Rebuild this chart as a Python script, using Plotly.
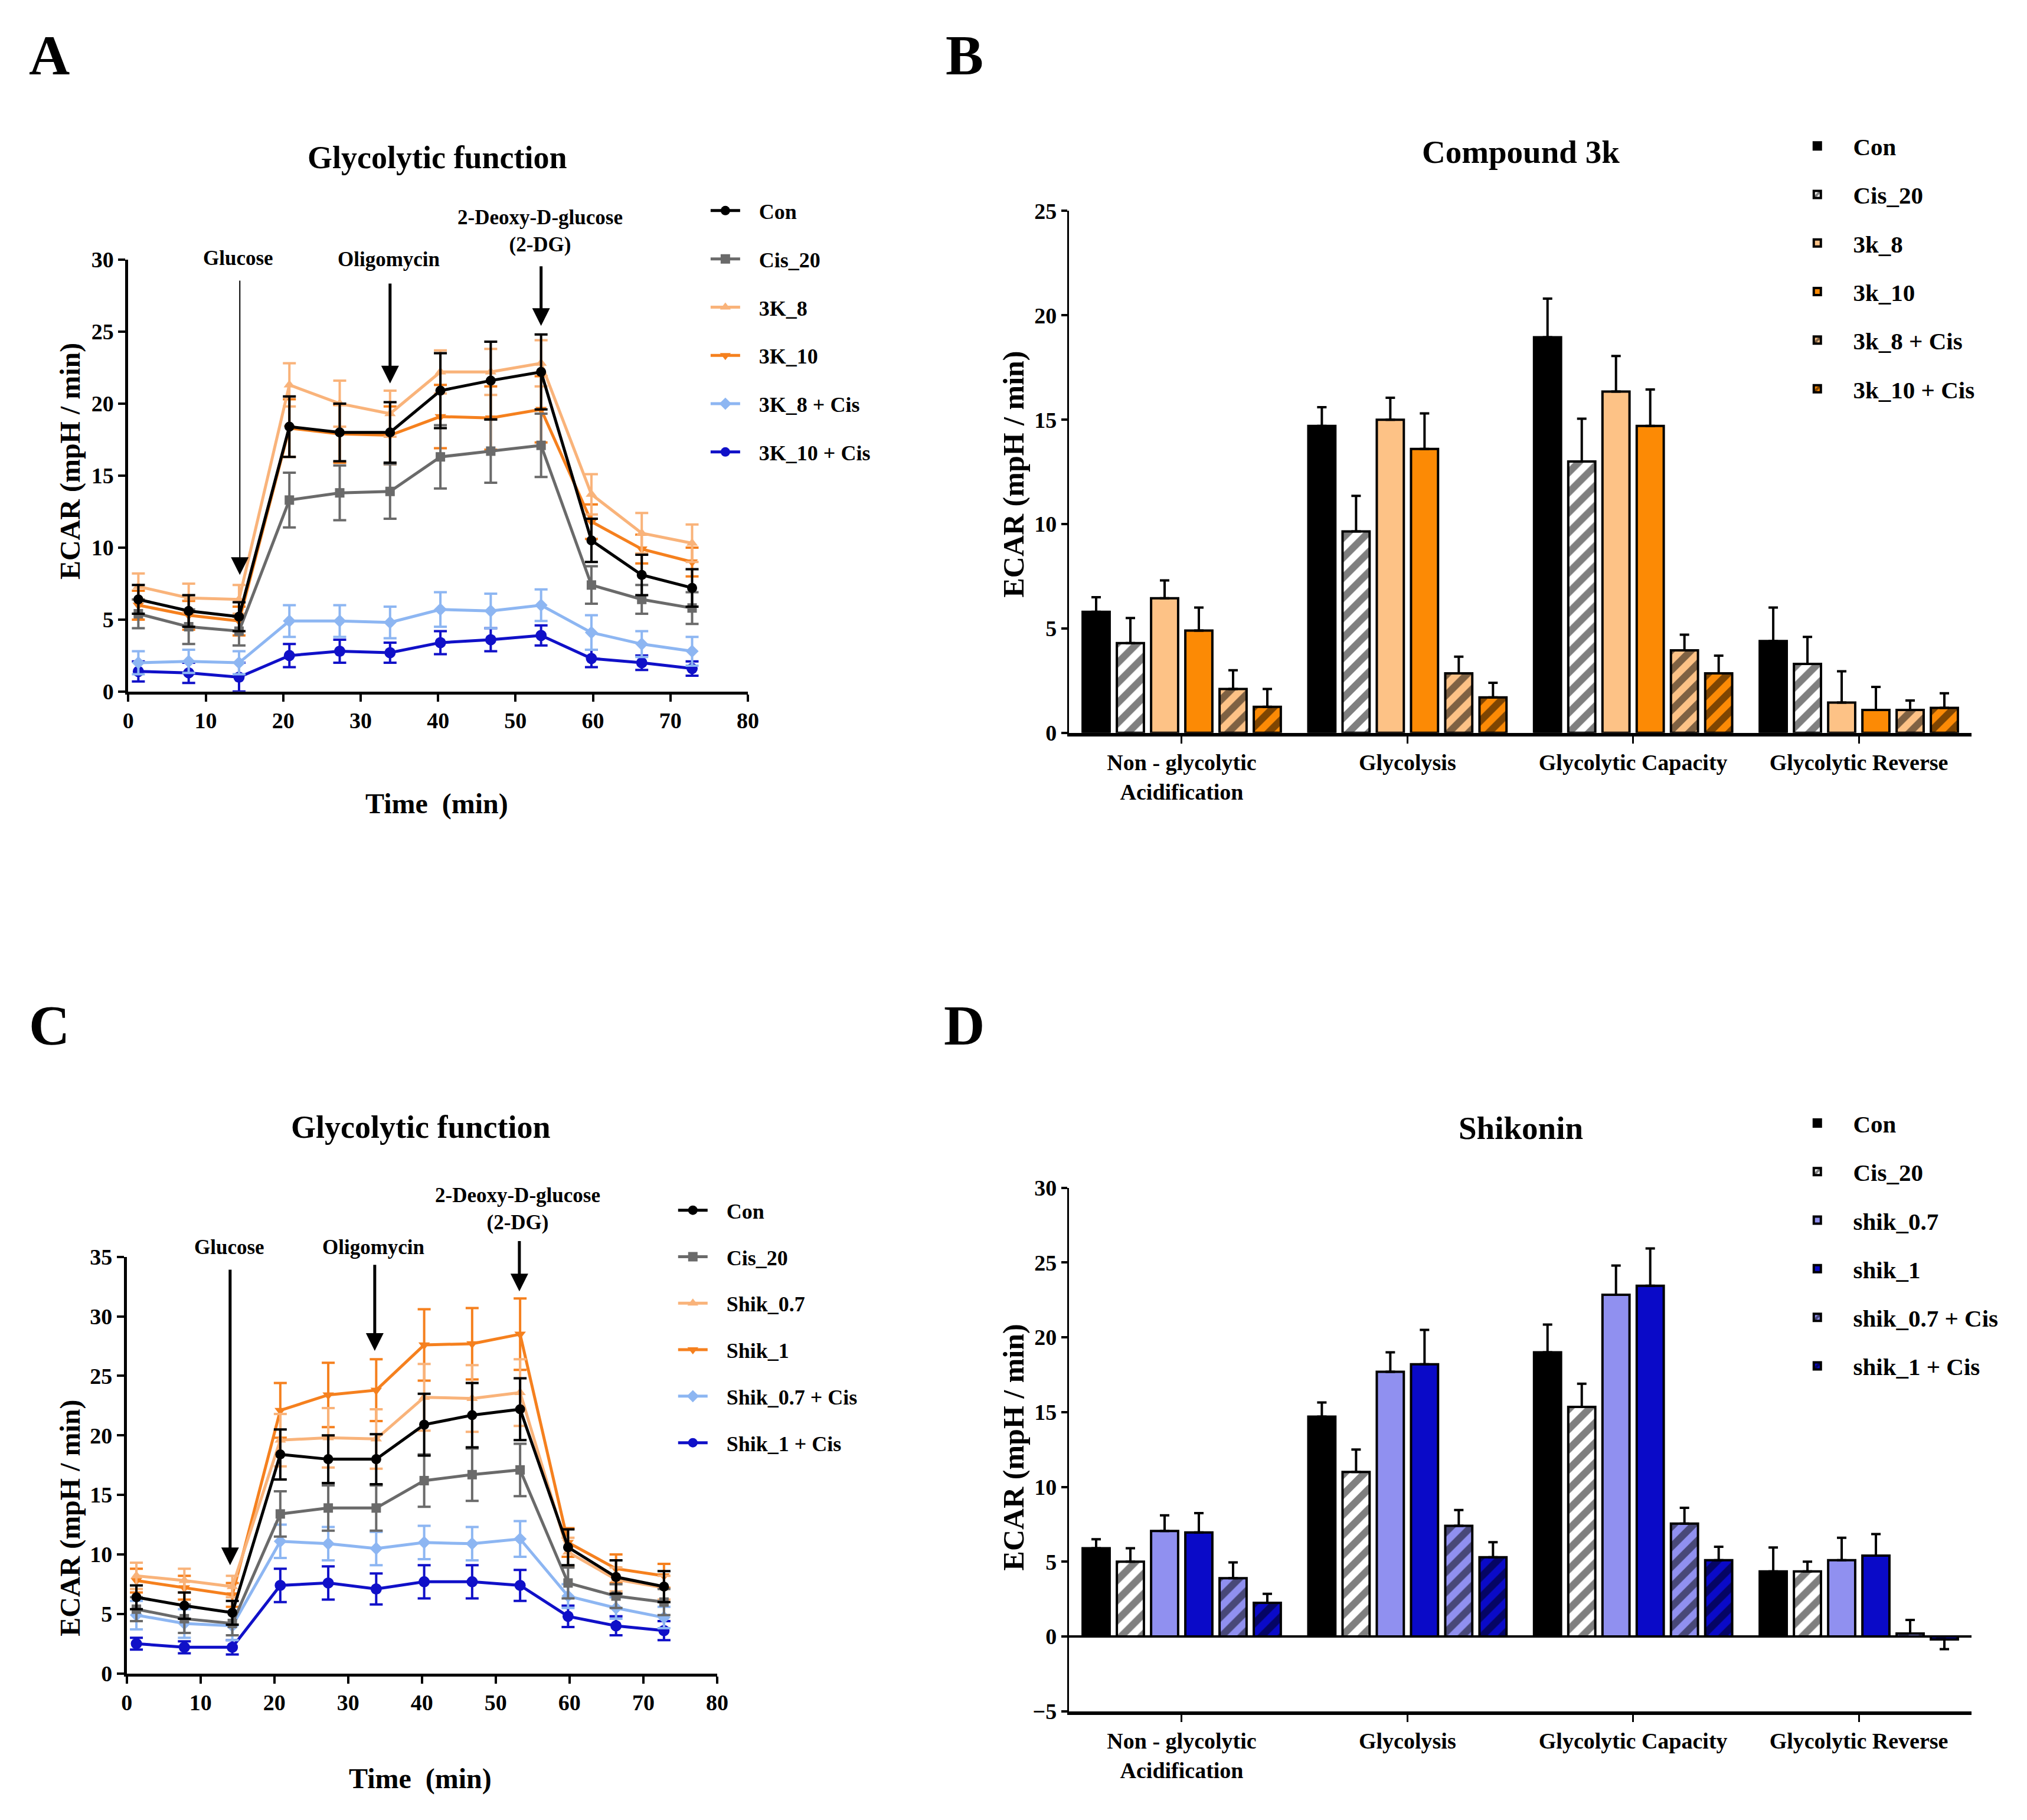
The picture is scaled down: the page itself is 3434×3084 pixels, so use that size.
import plotly.graph_objects as go

W, H = 3434, 3084
FONT = "Liberation Serif"

# ---------------- data ----------------
times = [1.3, 7.8, 14.3, 20.8, 27.3, 33.8, 40.3, 46.8, 53.3, 59.8, 66.3, 72.8]

# Panel A (compound 3k, time course)
con_a = [6.4, 5.6, 5.2, 18.4, 18.0, 18.0, 20.9, 21.6, 22.2, 10.5, 8.1, 7.2]
con_a_err = [1.0, 1.1, 1.0, 2.1, 2.0, 2.1, 2.6, 2.7, 2.6, 1.5, 1.4, 1.3]
cis_a = [5.4, 4.5, 4.2, 13.3, 13.8, 13.9, 16.3, 16.7, 17.1, 7.4, 6.4, 5.8]
cis_a_err = [1.0, 1.2, 1.0, 1.9, 1.9, 1.9, 2.2, 2.2, 2.2, 1.3, 1.0, 1.1]
k8_a = [7.3, 6.5, 6.4, 21.3, 20.0, 19.3, 22.2, 22.2, 22.8, 13.7, 11.0, 10.3]
k8_a_err = [0.9, 1.0, 1.0, 1.5, 1.6, 1.6, 1.5, 1.6, 1.6, 1.4, 1.4, 1.3]
k10_a = [6.0, 5.3, 4.9, 18.3, 17.9, 17.8, 19.1, 19.0, 19.6, 11.8, 9.9, 9.0]
k10_a_err = [1.0, 1.0, 1.0, 2.0, 2.0, 2.0, 2.2, 2.2, 2.3, 1.2, 1.0, 1.0]
k8c_a = [2.0, 2.1, 2.0, 4.9, 4.9, 4.8, 5.7, 5.6, 6.0, 4.1, 3.3, 2.8]
k8c_a_err = [0.8, 0.8, 0.8, 1.1, 1.1, 1.1, 1.2, 1.2, 1.1, 1.2, 0.9, 1.0]
k10c_a = [1.4, 1.3, 1.0, 2.5, 2.8, 2.7, 3.4, 3.6, 3.9, 2.3, 2.0, 1.6]
k10c_a_err = [0.7, 0.7, 1.0, 0.8, 0.8, 0.7, 0.8, 0.8, 0.7, 0.6, 0.5, 0.5]

# Panel C (shikonin, time course)
con_c = [6.4, 5.7, 5.1, 18.4, 18.0, 18.0, 20.9, 21.7, 22.2, 10.6, 8.1, 7.3]
con_c_err = [1.0, 1.1, 1.0, 2.1, 2.0, 2.1, 2.6, 2.7, 2.6, 1.5, 1.4, 1.3]
cis_c = [5.4, 4.6, 4.2, 13.4, 13.9, 13.9, 16.2, 16.7, 17.1, 7.6, 6.5, 6.0]
cis_c_err = [1.0, 1.2, 1.0, 1.9, 1.9, 1.9, 2.2, 2.2, 2.2, 1.3, 1.0, 1.1]
s07_c = [8.2, 7.8, 7.3, 19.6, 19.8, 19.7, 23.2, 23.1, 23.6, 10.2, 7.9, 7.2]
s07_c_err = [1.1, 1.0, 0.9, 2.2, 2.5, 2.5, 2.8, 2.8, 2.8, 1.2, 1.0, 1.0]
s1_c = [7.8, 7.2, 6.6, 22.1, 23.4, 23.8, 27.6, 27.7, 28.5, 11.0, 8.8, 8.2]
s1_c_err = [1.0, 1.0, 1.0, 2.3, 2.7, 2.6, 3.0, 3.0, 3.0, 1.2, 1.2, 1.0]
s07c_c = [4.9, 4.2, 4.0, 11.1, 10.9, 10.5, 11.0, 10.9, 11.3, 6.5, 5.5, 4.7]
s07c_c_err = [1.2, 1.2, 1.2, 1.4, 1.4, 1.4, 1.4, 1.4, 1.5, 1.0, 0.9, 0.9]
s1c_c = [2.5, 2.2, 2.2, 7.4, 7.6, 7.1, 7.7, 7.7, 7.4, 4.8, 4.0, 3.6]
s1c_c_err = [0.5, 0.5, 0.6, 1.4, 1.4, 1.3, 1.4, 1.4, 1.3, 0.9, 0.8, 0.8]

# Bar categories
categories = ["Non - glycolytic<br>Acidification", "Glycolysis",
              "Glycolytic Capacity", "Glycolytic Reverse"]

# Panel B (Compound 3k)
b_con = [5.8, 14.7, 18.95, 4.4]
b_con_err = [0.7, 0.9, 1.85, 1.6]
b_cis = [4.3, 9.65, 13.0, 3.3]
b_cis_err = [1.2, 1.7, 2.05, 1.3]
b_k8 = [6.45, 15.0, 16.35, 1.45]
b_k8_err = [0.85, 1.05, 1.7, 1.5]
b_k10 = [4.9, 13.6, 14.7, 1.1]
b_k10_err = [1.1, 1.7, 1.75, 1.1]
b_k8c = [2.1, 2.85, 3.95, 1.1]
b_k8c_err = [0.9, 0.8, 0.75, 0.45]
b_k10c = [1.25, 1.7, 2.85, 1.2]
b_k10c_err = [0.85, 0.7, 0.85, 0.7]

# Panel D (Shikonin)
d_con = [5.9, 14.7, 19.0, 4.35]
d_con_err = [0.6, 0.95, 1.85, 1.6]
d_cis = [5.0, 11.0, 15.35, 4.35]
d_cis_err = [0.9, 1.5, 1.55, 0.65]
d_s07 = [7.05, 17.7, 22.85, 5.1]
d_s07_err = [1.05, 1.3, 1.95, 1.5]
d_s1 = [6.95, 18.2, 23.45, 5.4]
d_s1_err = [1.3, 2.3, 2.5, 1.45]
d_s07c = [3.9, 7.4, 7.55, 0.2]
d_s07c_err = [1.05, 1.05, 1.05, 0.9]
d_s1c = [2.25, 5.3, 5.1, -0.2]
d_s1c_err = [0.6, 1.0, 0.9, 0.65]

# ---------------- styling ----------------
BLACK = "#000000"
GRAY = "#6a6a6a"
LORANGE = "#f9b37a"
ORANGE = "#f5801e"
LBLUE = "#8db6f2"
BLUE = "#1010c8"
PEACH = "#fdc286"
BORANGE = "#fc8a05"
PERI = "#9090f0"
DBLUE = "#0a0ac8"
SP3 = "&nbsp;&nbsp;&nbsp;"

# empirical page-to-screenshot correction
AX, BX = 0.990, 11.0
AY, BY = 0.9865, 21.0


def px_x(p):
    return ((p - BX) / AX) / W


def px_y(p):
    return 1 - ((p - BY) / AY) / H


fig = go.Figure()


def add_lines(series, xa, ya, leg):
    for rank, (name, vals, errs, col, sym, size) in reversed(list(enumerate(series))):
        fig.add_trace(go.Scatter(
            x=times, y=vals, mode="lines+markers", name=SP3 + name,
            line=dict(color=col, width=5),
            marker=dict(symbol=sym, size=size, color=col),
            error_y=dict(type="data", array=errs, color=col, thickness=4, width=11),
            xaxis=xa, yaxis=ya, legend=leg, legendgroup=leg + name,
            legendrank=rank + 1, showlegend=True,
        ))


add_lines([
    ("Con", con_a, con_a_err, BLACK, "circle", 17),
    ("Cis_20", cis_a, cis_a_err, GRAY, "square", 16),
    ("3K_8", k8_a, k8_a_err, LORANGE, "triangle-up", 17),
    ("3K_10", k10_a, k10_a_err, ORANGE, "triangle-down", 17),
    ("3K_8 + Cis", k8c_a, k8c_a_err, LBLUE, "diamond", 17),
    ("3K_10 + Cis", k10c_a, k10c_a_err, BLUE, "circle", 19),
], "x", "y", "legend")

add_lines([
    ("Con", con_c, con_c_err, BLACK, "circle", 17),
    ("Cis_20", cis_c, cis_c_err, GRAY, "square", 16),
    ("Shik_0.7", s07_c, s07_c_err, LORANGE, "triangle-up", 17),
    ("Shik_1", s1_c, s1_c_err, ORANGE, "triangle-down", 17),
    ("Shik_0.7 + Cis", s07c_c, s07c_c_err, LBLUE, "diamond", 17),
    ("Shik_1 + Cis", s1c_c, s1c_c_err, BLUE, "circle", 19),
], "x3", "y3", "legend3")


def add_bars(series, xa, ya, leg):
    for rank, (name, vals, errs, col, striped) in enumerate(series):
        up = [e if v >= 0 else 0 for v, e in zip(vals, errs)]
        dn = [0 if v >= 0 else e for v, e in zip(vals, errs)]
        marker = dict(color=col, line=dict(color=BLACK, width=4))
        if striped:
            marker["pattern"] = dict(shape="/", fgcolor=BLACK, size=24,
                                     solidity=0.5, fillmode="overlay")
        fig.add_trace(go.Bar(
            x=categories, y=vals, name=SP3 + name, marker=marker,
            error_y=dict(type="data", symmetric=False, array=up, arrayminus=dn,
                         color=BLACK, thickness=4, width=8),
            xaxis=xa, yaxis=ya, legend=leg, legendgroup=leg + name,
            legendrank=rank + 1,
        ))


add_bars([
    ("Con", b_con, b_con_err, BLACK, False),
    ("Cis_20", b_cis, b_cis_err, "#ffffff", True),
    ("3k_8", b_k8, b_k8_err, PEACH, False),
    ("3k_10", b_k10, b_k10_err, BORANGE, False),
    ("3k_8 + Cis", b_k8c, b_k8c_err, PEACH, True),
    ("3k_10 + Cis", b_k10c, b_k10c_err, BORANGE, True),
], "x2", "y2", "legend2")

add_bars([
    ("Con", d_con, d_con_err, BLACK, False),
    ("Cis_20", d_cis, d_cis_err, "#ffffff", True),
    ("shik_0.7", d_s07, d_s07_err, PERI, False),
    ("shik_1", d_s1, d_s1_err, DBLUE, False),
    ("shik_0.7 + Cis", d_s07c, d_s07c_err, PERI, True),
    ("shik_1 + Cis", d_s1c, d_s1c_err, DBLUE, True),
], "x4", "y4", "legend4")

TICKFONT = dict(family=FONT, size=38, color=BLACK, weight="bold")


def lin_axis(domain, rng, dtick, anchor, lw=5):
    return dict(domain=domain, range=rng, dtick=dtick, anchor=anchor,
                showline=True, linewidth=lw, linecolor=BLACK, ticks="outside",
                ticklen=12, tickwidth=4, tickcolor=BLACK, tickfont=TICKFONT,
                showgrid=False, zeroline=False, mirror=False)


def cat_axis(domain, anchor):
    return dict(domain=domain, range=[-0.5, 3.5], type="category", anchor=anchor,
                showline=True, linewidth=6, linecolor=BLACK, ticks="outside",
                ticklen=12, tickwidth=3, tickcolor=BLACK, tickfont=TICKFONT,
                showgrid=False, zeroline=False)


def legend_cfg(x, ytop, size, gap):
    return dict(x=x, y=ytop, xanchor="left", yanchor="top",
                font=dict(family=FONT, size=size, color=BLACK, weight="bold"),
                tracegroupgap=gap, traceorder="grouped", bgcolor="rgba(0,0,0,0)",
                itemwidth=50)


# axis domains (paper)
XA = [px_x(218), px_x(1266)]
YA = [px_y(1172), px_y(440)]
XB = [px_x(1809), px_x(3336)]
YB = [px_y(1242), px_y(357.5)]
XC = [px_x(215.5), px_x(1214)]
YC = [px_y(2836), px_y(2130)]
XD = XB
YD = [px_y(2900), px_y(2013)]


def to_paper(v, dom, rng):
    return dom[0] + (v - rng[0]) / (rng[1] - rng[0]) * (dom[1] - dom[0])


ann = []


def text(x, y, s, size, angle=0):
    ann.append(dict(x=x, y=y, xref="paper", yref="paper", text=s, showarrow=False,
                    textangle=angle, xanchor="center", yanchor="middle",
                    font=dict(family=FONT, size=size, color=BLACK, weight="bold")))


def arrow(x, y0, y1, xref, yref, width, size):
    ann.append(dict(x=x, y=y1, ax=x, ay=y0, xref=xref, yref=yref, axref=xref,
                    ayref=yref, text="", showarrow=True, arrowhead=2,
                    arrowwidth=width, arrowsize=size, arrowcolor=BLACK))


def data_text(xv, yv, s, size, xdom, xr, ydom, yr):
    text(to_paper(xv, xdom, xr), to_paper(yv, ydom, yr), s, size)


# panel letters
for letter, px, py in [("A", 84, 94), ("B", 1632, 94), ("C", 84, 1738), ("D", 1632, 1738)]:
    text(px_x(px), px_y(py), letter, 96)

# titles
text(px_x(740), px_y(267), "Glycolytic function", 54)
text(px_x(2573), px_y(258), "Compound 3k", 55)
text(px_x(712), px_y(1910), "Glycolytic function", 54)
text(px_x(2573), px_y(1912), "Shikonin", 55)

# axis titles
text(px_x(740), px_y(1362), "Time  (min)", 48)
text(px_x(712), px_y(3014), "Time  (min)", 48)
text(px_x(120), px_y(782), "ECAR (mpH / min)", 48, angle=-90)
text(px_x(120), px_y(2573), "ECAR (mpH / min)", 48, angle=-90)
text(px_x(1715), px_y(804), "ECAR (mpH / min)", 50, angle=-90)
text(px_x(1715), px_y(2453), "ECAR (mpH / min)", 50, angle=-90)

# injection markers panel A
RA_X, RA_Y = [0, 80], [0, 30]
data_text(14.2, 30.1, "Glucose", 35, XA, RA_X, YA, RA_Y)
arrow(14.4, 28.6, 8.1, "x", "y", 2, 3)
data_text(33.6, 30.0, "Oligomycin", 35, XA, RA_X, YA, RA_Y)
arrow(33.8, 28.4, 21.4, "x", "y", 5, 1.2)
data_text(53.2, 32.0, "2-Deoxy-D-glucose<br>(2-DG)", 35, XA, RA_X, YA, RA_Y)
arrow(53.3, 29.6, 25.4, "x", "y", 5, 1.2)

# injection markers panel C
RC_X, RC_Y = [0, 80], [0, 35]
data_text(13.9, 35.8, "Glucose", 35, XC, RC_X, YC, RC_Y)
arrow(14.0, 34.0, 9.1, "x3", "y3", 5, 1.2)
data_text(33.4, 35.8, "Oligomycin", 35, XC, RC_X, YC, RC_Y)
arrow(33.6, 34.4, 27.1, "x3", "y3", 5, 1.2)
data_text(53.0, 39.05, "2-Deoxy-D-glucose<br>(2-DG)", 35, XC, RC_X, YC, RC_Y)
arrow(53.2, 36.4, 32.1, "x3", "y3", 5, 1.2)

ydD = lin_axis(YD, [-5, 30], 5, "x4", lw=3)
ydD.update(zeroline=True, zerolinewidth=4, zerolinecolor=BLACK, ticklen=10)
ybB = lin_axis(YB, [0, 25], 5, "x2", lw=3)
ybB.update(ticklen=10)

fig.update_layout(
    width=W, height=H,
    margin=dict(l=0, r=0, t=0, b=0),
    paper_bgcolor="white", plot_bgcolor="white",
    font=dict(family=FONT, color=BLACK, weight="bold"),
    barmode="group", bargap=0.09, bargroupgap=0.21,
    xaxis=lin_axis(XA, RA_X, 10, "y"),
    yaxis=lin_axis(YA, RA_Y, 5, "x"),
    xaxis2=cat_axis(XB, "y2"),
    yaxis2=ybB,
    xaxis3=lin_axis(XC, RC_X, 10, "y3"),
    yaxis3=lin_axis(YC, RC_Y, 5, "x3"),
    xaxis4=cat_axis(XD, "y4"),
    yaxis4=ydD,
    legend=legend_cfg(px_x(1198), px_y(327), 36, 32),
    legend2=legend_cfg(px_x(3045), px_y(214), 41, 26),
    legend3=legend_cfg(px_x(1143), px_y(2021), 36, 29),
    legend4=legend_cfg(px_x(3045), px_y(1870), 41, 26),
    annotations=ann,
    showlegend=True,
)

fig.write_html("out.html")
